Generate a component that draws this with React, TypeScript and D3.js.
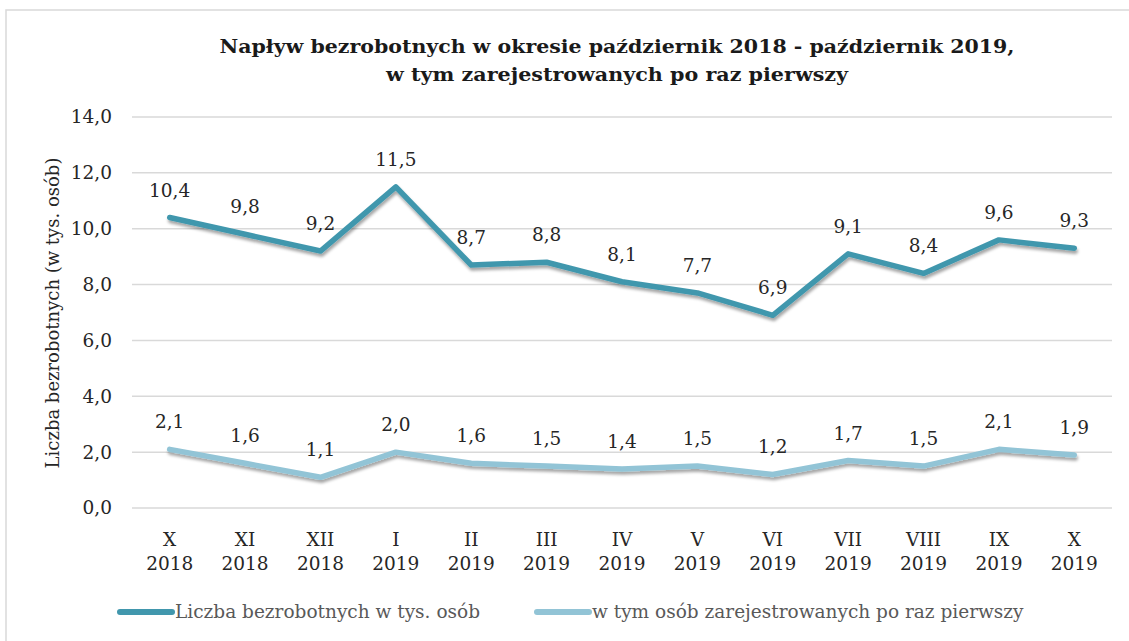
import React from 'react';
import * as d3 from 'd3';

const months = ['X', 'XI', 'XII', 'I', 'II', 'III', 'IV', 'V', 'VI', 'VII', 'VIII', 'IX', 'X'];
const years = ['2018', '2018', '2018', '2019', '2019', '2019', '2019', '2019', '2019', '2019', '2019', '2019', '2019'];
const totalValues = [10.4, 9.8, 9.2, 11.5, 8.7, 8.8, 8.1, 7.7, 6.9, 9.1, 8.4, 9.6, 9.3];
const firstTimeValues = [2.1, 1.6, 1.1, 2.0, 1.6, 1.5, 1.4, 1.5, 1.2, 1.7, 1.5, 2.1, 1.9];
const yTicks = [0, 2, 4, 6, 8, 10, 12, 14];

const seriesNames = ['Liczba bezrobotnych w tys. osób', 'w tym osób zarejestrowanych po raz pierwszy'];
const seriesColors = ['#4197ad', '#92c4d6'];

const width = 1129;
const height = 641;
const font = '"DejaVu Serif", serif';
const labelSize = 18.5;

export default function App() {
  const x = d3.scalePoint<number>()
    .domain(months.map((m, i) => i))
    .range([132, 1112])
    .padding(0.5);
  const y = d3.scaleLinear().domain([0, 14]).range([508, 117]);
  const fmt = (v: number) => d3.format('.1f')(v).replace('.', ',');

  const line = d3.line<number>()
    .x((d, i) => x(i) as number)
    .y(d => y(d));

  const series = [totalValues, firstTimeValues];

  return (
    <svg width={width} height={height} style={{ position: 'absolute', left: 0, top: 0, background: '#fff' }}>
      <defs>
        <filter id="shadow" x="-5%" y="-50%" width="110%" height="200%">
          <feDropShadow dx="1" dy="3" stdDeviation="1.8" floodColor="#000" floodOpacity="0.35" />
        </filter>
      </defs>
      <rect x={6} y={10} width={1140} height={660} fill="#fff" stroke="#d9d9d9" strokeWidth={1.5} />

      {/* title */}
      <text x={617} y={53} textAnchor="middle" fontFamily={font} fontWeight="bold" fontSize={18} fill="#1a1a1a"
        textLength={795} lengthAdjust="spacingAndGlyphs">
        Napływ  bezrobotnych w okresie październik 2018 - październik 2019,
      </text>
      <text x={617} y={81} textAnchor="middle" fontFamily={font} fontWeight="bold" fontSize={18} fill="#1a1a1a"
        textLength={462} lengthAdjust="spacingAndGlyphs">
        w tym zarejestrowanych po raz pierwszy
      </text>

      {/* grid + y ticks */}
      {yTicks.map(t => (
        <g key={t}>
          <line x1={132} x2={1112} y1={y(t)} y2={y(t)} stroke="#d9d9d9" strokeWidth={1.5} />
          <text x={112} y={y(t)} dy="0.35em" textAnchor="end" fontFamily={font} fontSize={labelSize} fill="#262626">
            {fmt(t)}
          </text>
        </g>
      ))}

      <text transform="translate(53,313) rotate(-90)" textAnchor="middle" dy="0.35em"
        fontFamily={font} fontSize={18} fill="#262626">
        Liczba bezrobotnych (w tys. osób)
      </text>

      {/* x labels */}
      {months.map((m, i) => (
        <g key={i}>
          <text x={x(i)} y={546} textAnchor="middle" fontFamily={font} fontSize={labelSize} fill="#262626">{m}</text>
          <text x={x(i)} y={570} textAnchor="middle" fontFamily={font} fontSize={labelSize} fill="#262626">{years[i]}</text>
        </g>
      ))}

      {/* lines */}
      {series.map((s, k) => (
        <path key={k} d={line(s) || ''} fill="none" stroke={seriesColors[k]} strokeWidth={5.5}
          strokeLinejoin="round" strokeLinecap="round" filter="url(#shadow)" />
      ))}

      {/* data labels */}
      {series.map((s, k) => s.map((v, i) => (
        <text key={k + '-' + i} x={x(i)} y={y(v) - 21} textAnchor="middle" fontFamily={font} fontSize={labelSize} fill="#262626">
          {fmt(v)}
        </text>
      )))}

      {/* legend */}
      {[{ x1: 120, x2: 172 }, { x1: 537, x2: 589 }].map((p, k) => (
        <g key={k}>
          <line x1={p.x1} x2={p.x2} y1={612} y2={612} stroke={seriesColors[k]} strokeWidth={6} strokeLinecap="round" />
          <text x={p.x2 + 3} y={612} dy="0.35em" fontFamily={font} fontSize={18.5} fill="#595959">{seriesNames[k]}</text>
        </g>
      ))}
    </svg>
  );
}
